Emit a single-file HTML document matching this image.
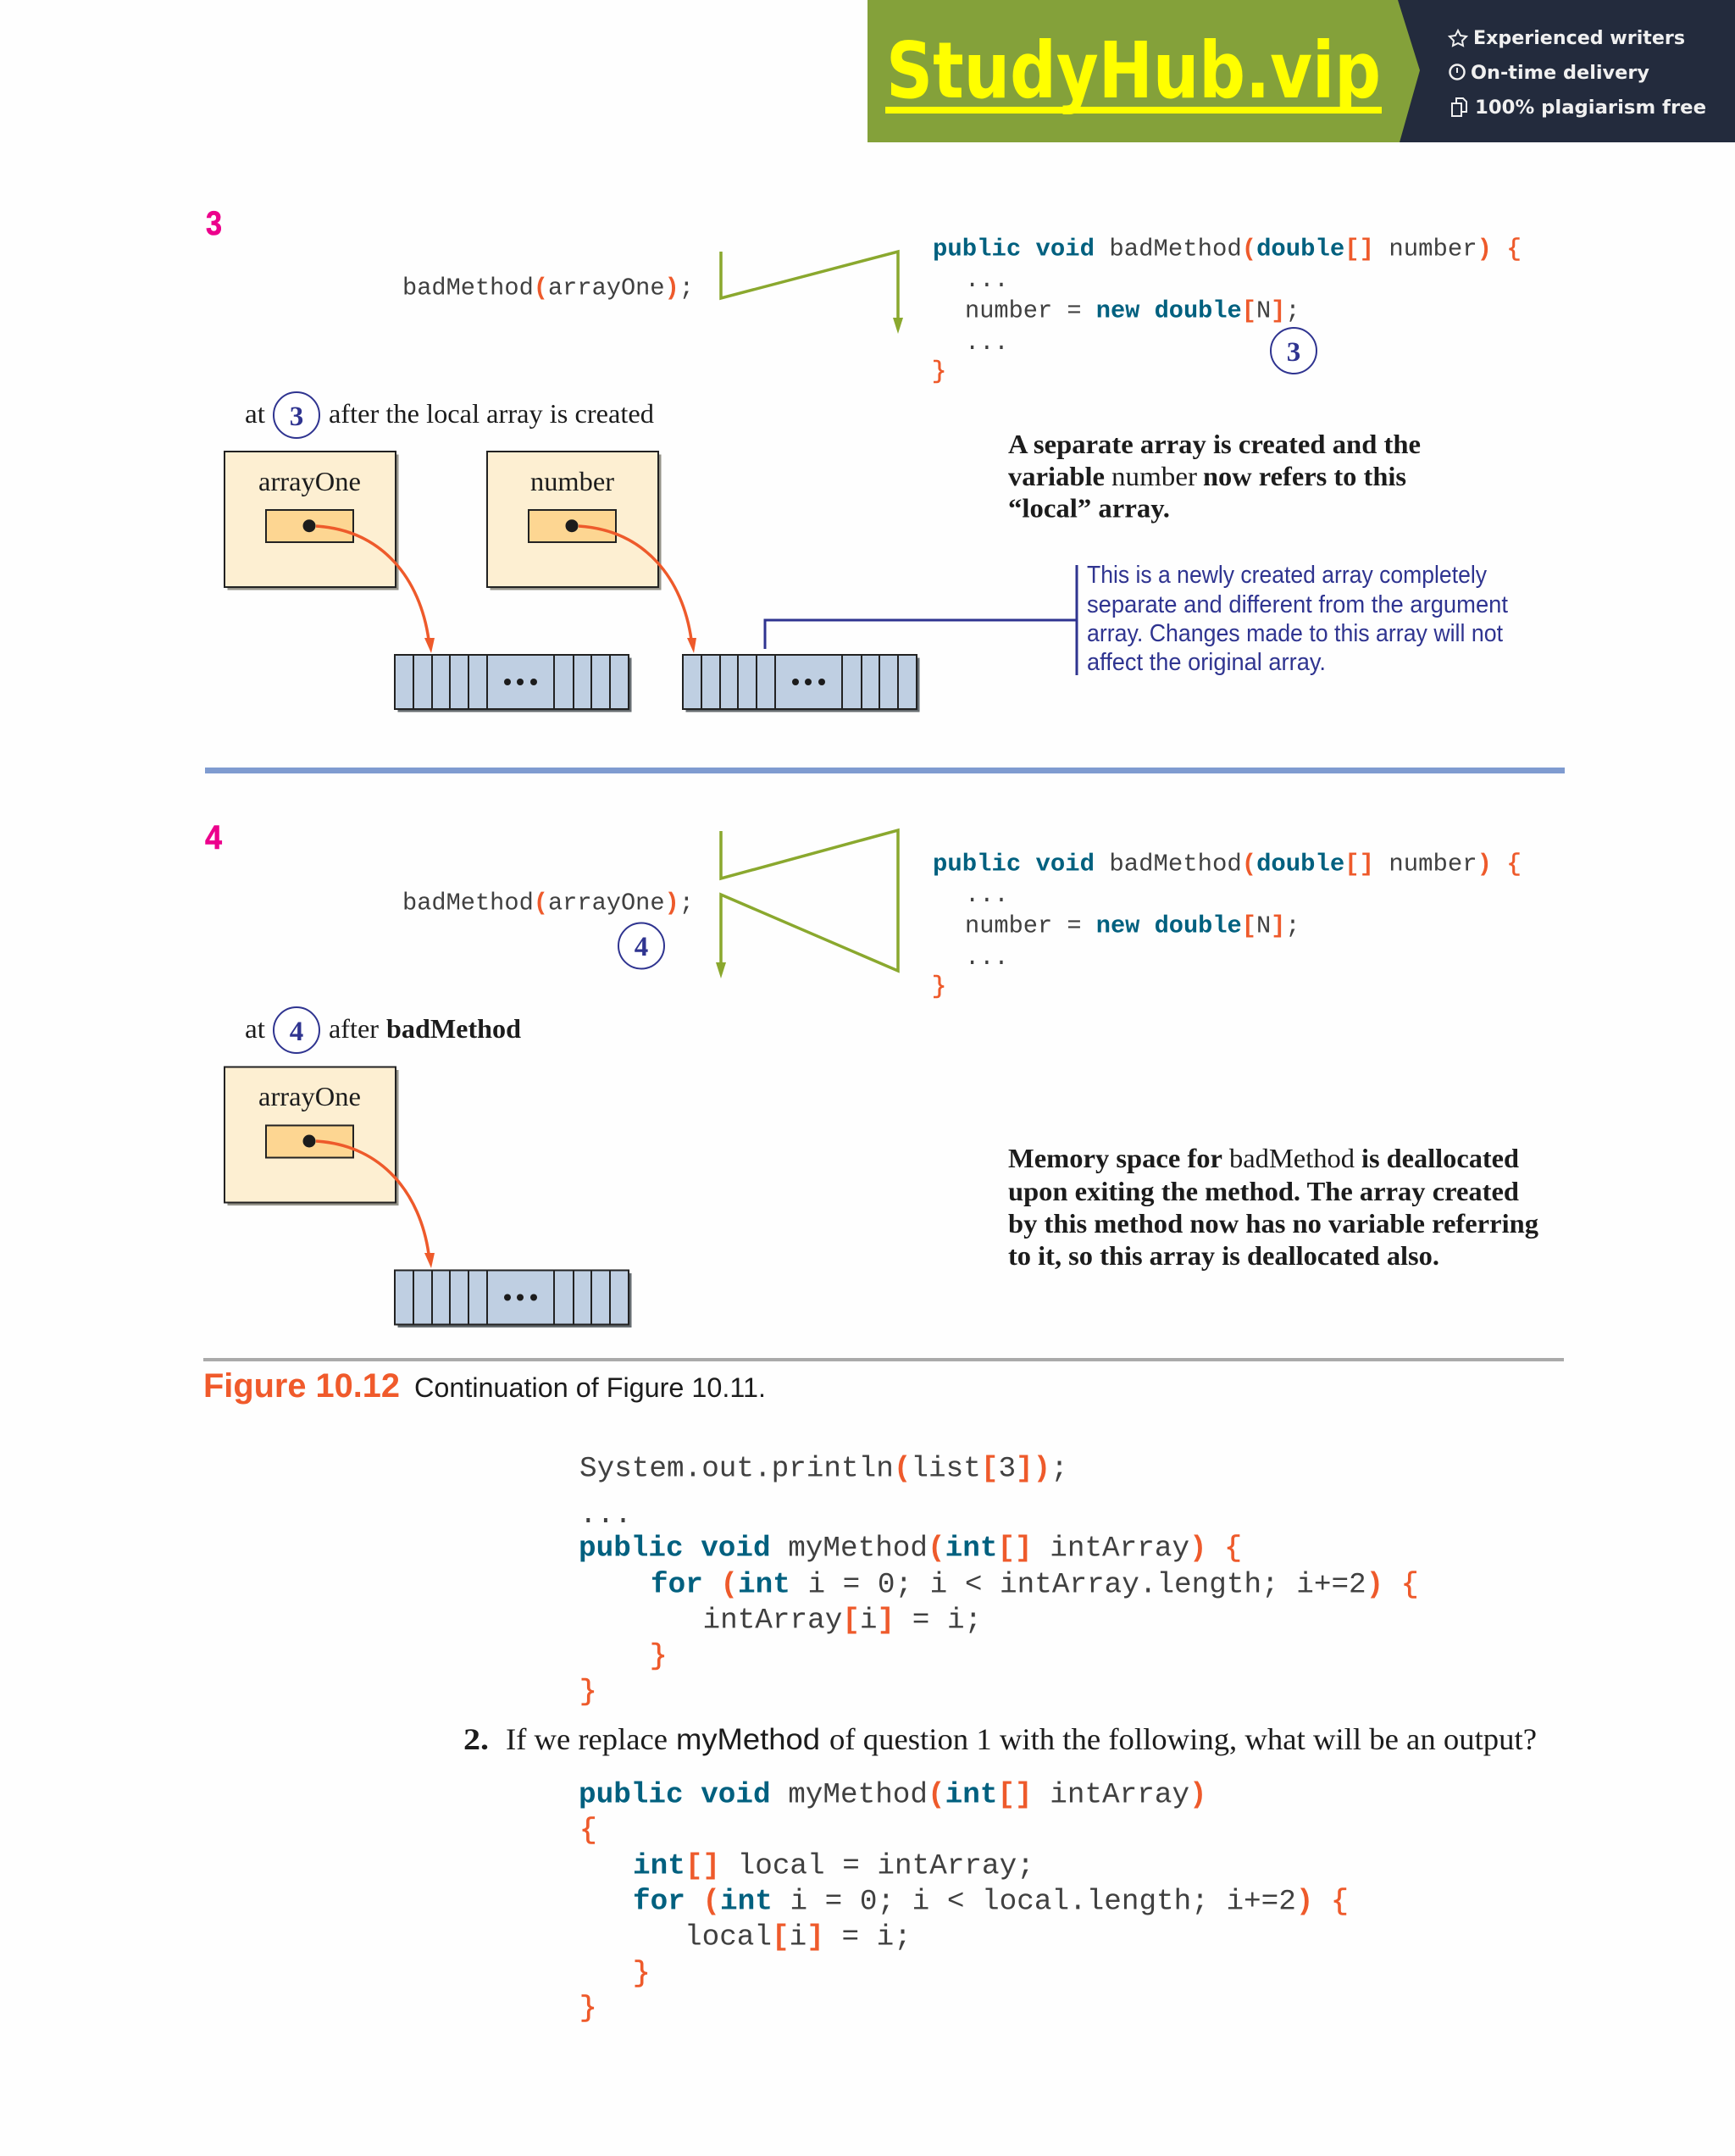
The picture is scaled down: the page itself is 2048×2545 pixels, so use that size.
<!DOCTYPE html>
<html><head><meta charset="utf-8"><style>
html,body{margin:0;padding:0;background:#fff}
svg{display:block}
text{white-space:pre}
.m{font-family:"Liberation Mono",monospace;fill:#404040}
.s3{font-size:28.67px}.s3w{font-size:28.95px}.s4{font-size:34.33px}
.k{font-weight:bold;fill:#00607f}
.o{font-weight:bold;fill:#ee5a2b}
.br{font-weight:normal;fill:#ee5a2b;stroke:#ee5a2b;stroke-width:.6px}
.t{font-family:"Liberation Serif",serif;fill:#1c1c1c;font-size:32px}
.b{font-weight:bold}
.c{font-family:"Liberation Serif",serif;font-weight:bold;fill:#2f3490;font-size:33px;text-anchor:middle}
.n{font-family:"Liberation Sans",sans-serif;fill:#2f3490;font-size:29px}
.d{font-family:"DejaVu Sans",sans-serif;font-weight:bold;fill:#f0f0f0;font-size:22px}
.p{font-family:"Liberation Sans",sans-serif;font-weight:bold;fill:#ec008c;font-size:40px;stroke:#ec008c;stroke-width:.6px}
</style></head><body>
<svg xmlns="http://www.w3.org/2000/svg" width="2048" height="2545" viewBox="0 0 2048 2545">
<rect width="2048" height="2545" fill="#fefefe"/>
<!-- banner -->
<rect x="1024" y="0" width="660" height="168" fill="#84a13a"/>
<polygon points="1650,0 1676,83 1652,168 2048,168 2048,0" fill="#232b3d"/>
<text x="1046" y="115" textLength="584" lengthAdjust="spacingAndGlyphs" font-family="DejaVu Sans" font-weight="bold" font-size="92" fill="#ffff00">StudyHub.vip</text>
<rect x="1045" y="126" width="586" height="8" fill="#ffff00"/>
<text class="d" x="1739" y="52" textLength="250" lengthAdjust="spacingAndGlyphs">Experienced writers</text>
<text class="d" x="1736" y="93" textLength="211" lengthAdjust="spacingAndGlyphs">On-time delivery</text>
<text class="d" x="1741" y="134" textLength="273" lengthAdjust="spacingAndGlyphs">100% plagiarism free</text>
<polygon points="1721,36 1724,42 1731,43 1726,48 1727,54 1721,51 1715,54 1716,48 1711,43 1718,42" fill="none" stroke="#f0f0f0" stroke-width="2"/>
<circle cx="1720" cy="85" r="8.5" fill="none" stroke="#f0f0f0" stroke-width="2.5"/>
<path d="M1720 80v6" stroke="#f0f0f0" stroke-width="2"/>
<rect x="1714" y="122" width="11" height="15" fill="none" stroke="#f0f0f0" stroke-width="2"/>
<path d="M1719 122v-6h8l4 4v12h-6" fill="none" stroke="#f0f0f0" stroke-width="2"/>

<!-- section 3 -->
<text class="p" x="243" y="277" textLength="19" lengthAdjust="spacingAndGlyphs">3</text>
<text class="m s3" x="475" y="347.500">badMethod<tspan class="o">(</tspan>arrayOne<tspan class="o">)</tspan>;</text>
<polyline points="851,297 851,352 1060,297 1060,378" fill="none" stroke="#8aa82e" stroke-width="3.5"/>
<polygon points="1060,394 1054,375 1066,375" fill="#8aa82e"/>
<text class="m s3w" x="1101" y="301.500"><tspan class="k">public void</tspan> badMethod<tspan class="o">(</tspan><tspan class="k">double</tspan><tspan class="o">[]</tspan> number<tspan class="o">)</tspan> <tspan class="br">{</tspan></text>
<text class="m s3" x="1139" y="338">...</text>
<text class="m s3" x="1139" y="374.500">number = <tspan class="k">new double</tspan><tspan class="o">[</tspan>N<tspan class="o">]</tspan>;</text>
<text class="m s3" x="1139" y="412">...</text>
<text class="m s3" x="1100" y="446"><tspan class="br">}</tspan></text>
<circle cx="1527" cy="414" r="27" fill="#fff" stroke="#2f3490" stroke-width="2"/>
<text class="c" x="1527" y="426">3</text>
<text class="t" x="289" y="499" textLength="24" lengthAdjust="spacingAndGlyphs">at</text>
<circle cx="350" cy="490" r="27" fill="#fff" stroke="#2f3490" stroke-width="2"/>
<text class="c" x="350" y="502">3</text>
<text class="t" x="388" y="499" textLength="384" lengthAdjust="spacingAndGlyphs">after the local array is created</text>

<rect x="268.500" y="536.500" width="202" height="160" fill="#96948a"/>
<rect x="265" y="533" width="202" height="160" fill="#fdefd2" stroke="#222" stroke-width="2"/>
<text class="t" x="305" y="579" textLength="121" lengthAdjust="spacingAndGlyphs">arrayOne</text>
<rect x="314" y="602" width="103" height="38" fill="#fdd692" stroke="#222" stroke-width="2"/>
<circle cx="365" cy="620.700" r="7.500" fill="#1c1c1c"/>
<path d="M373 621C452 626 496 684 506 755" fill="none" stroke="#ee5a2b" stroke-width="3.500"/>
<polygon points="509,771 501,753 513,753" fill="#ee5a2b"/>

<rect x="578.500" y="536.500" width="202" height="160" fill="#96948a"/>
<rect x="575" y="533" width="202" height="160" fill="#fdefd2" stroke="#222" stroke-width="2"/>
<text class="t" x="626" y="579" textLength="99" lengthAdjust="spacingAndGlyphs">number</text>
<rect x="624" y="602" width="103" height="38" fill="#fdd692" stroke="#222" stroke-width="2"/>
<circle cx="675" cy="620.700" r="7.500" fill="#1c1c1c"/>
<path d="M683 621C762 626 806 684 816 755" fill="none" stroke="#ee5a2b" stroke-width="3.500"/>
<polygon points="819,771 811,753 822,753" fill="#ee5a2b"/>

<rect x="469.500" y="776.500" width="276" height="64" fill="#666c70"/>
<rect x="466" y="773" width="276" height="64" fill="#bfcfe2" stroke="#222" stroke-width="2"/>
<path d="M488 773v64M510 773v64M531 773v64M553 773v64M575 773v64M654 773v64M677 773v64M698 773v64M720 773v64" stroke="#222" stroke-width="2"/>
<circle cx="599" cy="805" r="4" fill="#1c1c1c"/><circle cx="614" cy="805" r="4" fill="#1c1c1c"/><circle cx="630" cy="805" r="4" fill="#1c1c1c"/>

<rect x="809.500" y="776.500" width="276" height="64" fill="#666c70"/>
<rect x="806" y="773" width="276" height="64" fill="#bfcfe2" stroke="#222" stroke-width="2"/>
<path d="M828 773v64M850 773v64M871 773v64M893 773v64M915 773v64M994 773v64M1017 773v64M1038 773v64M1060 773v64" stroke="#222" stroke-width="2"/>
<circle cx="939" cy="805" r="4" fill="#1c1c1c"/><circle cx="954" cy="805" r="4" fill="#1c1c1c"/><circle cx="970" cy="805" r="4" fill="#1c1c1c"/>

<polyline points="903,766 903,732 1271,732" fill="none" stroke="#2f3490" stroke-width="3"/>
<line x1="1271" y1="667" x2="1271" y2="797" stroke="#2f3490" stroke-width="3"/>
<text class="n" x="1283" y="688" textLength="472" lengthAdjust="spacingAndGlyphs">This is a newly created array completely</text>
<text class="n" x="1283" y="723" textLength="497" lengthAdjust="spacingAndGlyphs">separate and different from the argument</text>
<text class="n" x="1283" y="757" textLength="491" lengthAdjust="spacingAndGlyphs">array. Changes made to this array will not</text>
<text class="n" x="1283" y="791" textLength="282" lengthAdjust="spacingAndGlyphs">affect the original array.</text>

<text class="t b" x="1190" y="535" textLength="487" lengthAdjust="spacingAndGlyphs">A separate array is created and the</text>
<text class="t b" x="1190" y="573" textLength="114" lengthAdjust="spacingAndGlyphs">variable</text>
<text class="t" x="1312" y="573" textLength="101" lengthAdjust="spacingAndGlyphs">number</text>
<text class="t b" x="1420" y="573" textLength="240" lengthAdjust="spacingAndGlyphs">now refers to this</text>
<text class="t b" x="1190" y="610.500" textLength="191" lengthAdjust="spacingAndGlyphs">“local” array.</text>

<rect x="242" y="906" width="1605" height="7" fill="#7f9bd0"/>

<!-- section 4 -->
<text class="p" x="242" y="1002" textLength="20" lengthAdjust="spacingAndGlyphs">4</text>
<text class="m s3" x="475" y="1073.500">badMethod<tspan class="o">(</tspan>arrayOne<tspan class="o">)</tspan>;</text>
<circle cx="757" cy="1116.500" r="27" fill="#fff" stroke="#2f3490" stroke-width="2"/>
<text class="c" x="757" y="1128">4</text>
<polyline points="851,981 851,1037 1060,980 1060,1146 851,1056 851,1138" fill="none" stroke="#8aa82e" stroke-width="3.500"/>
<polygon points="851,1155 845,1136 857,1136" fill="#8aa82e"/>
<text class="m s3w" x="1101" y="1027.500"><tspan class="k">public void</tspan> badMethod<tspan class="o">(</tspan><tspan class="k">double</tspan><tspan class="o">[]</tspan> number<tspan class="o">)</tspan> <tspan class="br">{</tspan></text>
<text class="m s3" x="1139" y="1064">...</text>
<text class="m s3" x="1139" y="1100.500">number = <tspan class="k">new double</tspan><tspan class="o">[</tspan>N<tspan class="o">]</tspan>;</text>
<text class="m s3" x="1139" y="1138">...</text>
<text class="m s3" x="1100" y="1172"><tspan class="br">}</tspan></text>
<text class="t" x="289" y="1225" textLength="24" lengthAdjust="spacingAndGlyphs">at</text>
<circle cx="350" cy="1216" r="27" fill="#fff" stroke="#2f3490" stroke-width="2"/>
<text class="c" x="350" y="1228">4</text>
<text class="t" x="388" y="1225" textLength="59" lengthAdjust="spacingAndGlyphs">after</text>
<text class="t b" x="456" y="1225" textLength="159" lengthAdjust="spacingAndGlyphs">badMethod</text>

<rect x="268.500" y="1263" width="202" height="160" fill="#96948a"/>
<rect x="265" y="1259.500" width="202" height="160" fill="#fdefd2" stroke="#222" stroke-width="2"/>
<text class="t" x="305" y="1305" textLength="121" lengthAdjust="spacingAndGlyphs">arrayOne</text>
<rect x="314" y="1328.500" width="103" height="38" fill="#fdd692" stroke="#222" stroke-width="2"/>
<circle cx="365" cy="1347" r="7.500" fill="#1c1c1c"/>
<path d="M373 1347C452 1352 496 1410 506 1480" fill="none" stroke="#ee5a2b" stroke-width="3.500"/>
<polygon points="509,1497 501,1479 513,1479" fill="#ee5a2b"/>
<rect x="469.500" y="1503" width="276" height="64" fill="#666c70"/>
<rect x="466" y="1499.500" width="276" height="64" fill="#bfcfe2" stroke="#222" stroke-width="2"/>
<path d="M488 1499.500v64M510 1499.500v64M531 1499.500v64M553 1499.500v64M575 1499.500v64M654 1499.500v64M677 1499.500v64M698 1499.500v64M720 1499.500v64" stroke="#222" stroke-width="2"/>
<circle cx="599" cy="1531.500" r="4" fill="#1c1c1c"/><circle cx="614" cy="1531.500" r="4" fill="#1c1c1c"/><circle cx="630" cy="1531.500" r="4" fill="#1c1c1c"/>

<text class="t b" x="1190" y="1378" textLength="253" lengthAdjust="spacingAndGlyphs">Memory space for</text>
<text class="t" x="1451" y="1378" textLength="148" lengthAdjust="spacingAndGlyphs">badMethod</text>
<text class="t b" x="1607" y="1378" textLength="186" lengthAdjust="spacingAndGlyphs">is deallocated</text>
<text class="t b" x="1190" y="1417" textLength="603" lengthAdjust="spacingAndGlyphs">upon exiting the method. The array created</text>
<text class="t b" x="1190" y="1455" textLength="626" lengthAdjust="spacingAndGlyphs">by this method now has no variable referring</text>
<text class="t b" x="1190" y="1493" textLength="509" lengthAdjust="spacingAndGlyphs">to it, so this array is deallocated also.</text>

<rect x="240" y="1603" width="1606" height="4" fill="#aaaaaa"/>
<text x="240" y="1649" textLength="232" lengthAdjust="spacingAndGlyphs" font-family="Liberation Sans" font-weight="bold" font-size="40" fill="#f05a2b">Figure 10.12</text>
<text x="489" y="1649" textLength="415" lengthAdjust="spacingAndGlyphs" font-family="Liberation Sans" font-size="32" fill="#1c1c1c">Continuation of Figure 10.11.</text>

<!-- code 1 -->
<text class="m s4" x="684" y="1742.500">System.out.println<tspan class="o">(</tspan>list<tspan class="o">[</tspan>3<tspan class="o">])</tspan>;</text>
<text class="m s4" x="684" y="1797">...</text>
<text class="m s4" x="683" y="1836.500"><tspan class="k">public void</tspan> myMethod<tspan class="o">(</tspan><tspan class="k">int</tspan><tspan class="o">[]</tspan> intArray<tspan class="o">)</tspan> <tspan class="br">{</tspan></text>
<text class="m s4" x="768" y="1879.500"><tspan class="k">for</tspan> <tspan class="o">(</tspan><tspan class="k">int</tspan> i = 0; i &lt; intArray.length; i+=2<tspan class="o">)</tspan> <tspan class="br">{</tspan></text>
<text class="m s4" x="829.500" y="1921.500">intArray<tspan class="o">[</tspan>i<tspan class="o">]</tspan> = i;</text>
<text class="m s4" x="767" y="1964"><tspan class="br">}</tspan></text>
<text class="m s4" x="684" y="2006"><tspan class="br">}</tspan></text>

<text class="t b" x="547" y="2065" style="font-size:36px" textLength="30" lengthAdjust="spacingAndGlyphs">2.</text>
<text class="t" x="597" y="2065" style="font-size:36px" textLength="191" lengthAdjust="spacingAndGlyphs">If we replace</text>
<text x="798" y="2065" textLength="170" lengthAdjust="spacingAndGlyphs" font-family="Liberation Sans" font-size="35" fill="#1c1c1c">myMethod</text>
<text class="t" x="979" y="2065" style="font-size:36px" textLength="835" lengthAdjust="spacingAndGlyphs">of question 1 with the following, what will be an output?</text>

<!-- code 2 -->
<text class="m s4" x="683" y="2127.500"><tspan class="k">public void</tspan> myMethod<tspan class="o">(</tspan><tspan class="k">int</tspan><tspan class="o">[]</tspan> intArray<tspan class="o">)</tspan></text>
<text class="m s4" x="684" y="2169.500"><tspan class="br">{</tspan></text>
<text class="m s4" x="747" y="2211.500"><tspan class="k">int</tspan><tspan class="o">[]</tspan> local = intArray;</text>
<text class="m s4" x="747" y="2253.500"><tspan class="k">for</tspan> <tspan class="o">(</tspan><tspan class="k">int</tspan> i = 0; i &lt; local.length; i+=2<tspan class="o">)</tspan> <tspan class="br">{</tspan></text>
<text class="m s4" x="808" y="2295.500">local<tspan class="o">[</tspan>i<tspan class="o">]</tspan> = i;</text>
<text class="m s4" x="747" y="2338.500"><tspan class="br">}</tspan></text>
<text class="m s4" x="684" y="2379.500"><tspan class="br">}</tspan></text>
</svg>
</body></html>
